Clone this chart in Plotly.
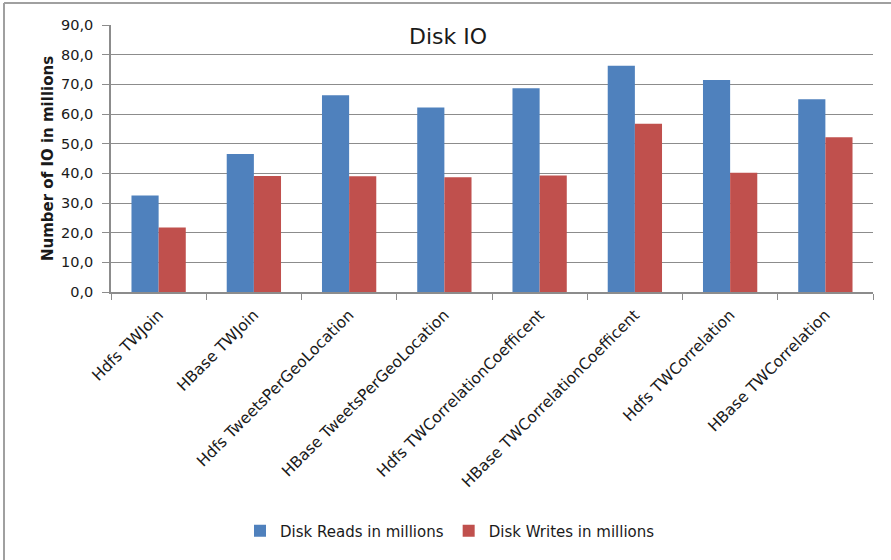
import plotly.graph_objects as go

# Workloads compared and their disk I/O (millions of operations)
categories = [
    "Hdfs TWJoin",
    "HBase TWJoin",
    "Hdfs TweetsPerGeoLocation",
    "HBase TweetsPerGeoLocation",
    "Hdfs TWCorrelationCoefficent",
    "HBase TWCorrelationCoefficent",
    "Hdfs TWCorrelation",
    "HBase TWCorrelation",
]
disk_reads = [32.5, 46.5, 66.3, 62.2, 68.7, 76.3, 71.5, 65.0]
disk_writes = [21.7, 39.1, 39.0, 38.7, 39.3, 56.7, 40.2, 52.2]
y_ticks = [0, 10, 20, 30, 40, 50, 60, 70, 80, 90]

FONT = "DejaVu Sans"
GRID = "#8c8c8c"

# plot-area geometry in pixels, used to place paper-referenced items
L, R, T, B = 111, 873, 25, 292
W, H = R - L, B - T


def px_x(x):
    return (x - L) / W


def px_y(y):
    return (B - y) / H


fig = go.Figure()
fig.add_trace(go.Bar(name="Disk Reads in millions", x=categories, y=disk_reads,
                     marker=dict(color="#4F81BD", line=dict(width=0))))
fig.add_trace(go.Bar(name="Disk Writes in millions", x=categories, y=disk_writes,
                     marker=dict(color="#C0504D", line=dict(width=0))))

fig.update_layout(
    width=891, height=560,
    margin=dict(l=L, r=891 - R, t=T, b=560 - B),
    paper_bgcolor="white", plot_bgcolor="white",
    separators=",.",
    barmode="group", bargap=0.43, bargroupgap=0,
    font=dict(family=FONT, color="#1a1a1a", size=14),
    showlegend=True,
    legend=dict(orientation="h", x=px_x(450), xanchor="center", y=px_y(531), yanchor="middle",
                font=dict(size=15, family=FONT), traceorder="normal"),
    annotations=[dict(text="Disk IO", xref="paper", yref="paper",
                      x=px_x(448), y=px_y(36), xanchor="center", yanchor="middle",
                      showarrow=False, font=dict(size=22, family=FONT))],
)

fig.update_xaxes(
    type="category", tickangle=-45, tickson="boundaries",
    ticks="outside", ticklen=6, tickcolor=GRID, ticklabelstandoff=6,
    showline=True, linecolor=GRID, linewidth=1.5,
    showgrid=False, tickfont=dict(size=15.5, family=FONT),
)
fig.update_yaxes(
    range=[0, 90], tickvals=y_ticks, tickformat=".1f",
    ticks="outside", ticklen=7, tickcolor=GRID, ticklabelstandoff=6,
    showline=True, linecolor=GRID, linewidth=1.5,
    showgrid=True, gridcolor=GRID, gridwidth=1.2, zeroline=False,
    tickfont=dict(size=14.5, family=FONT),
    title=dict(text="<b>Number of IO in millions</b>", font=dict(size=15, family=FONT), standoff=4),
)

# outer chart frame (left and top edges)
fig.add_shape(type="line", xref="paper", yref="paper",
              x0=px_x(4), x1=px_x(900), y0=px_y(3), y1=px_y(3),
              line=dict(color="#a0a0a0", width=2))
fig.add_shape(type="line", xref="paper", yref="paper",
              x0=px_x(4), x1=px_x(4), y0=px_y(3), y1=px_y(570),
              line=dict(color="#a0a0a0", width=2))

fig.write_html("out.html")
